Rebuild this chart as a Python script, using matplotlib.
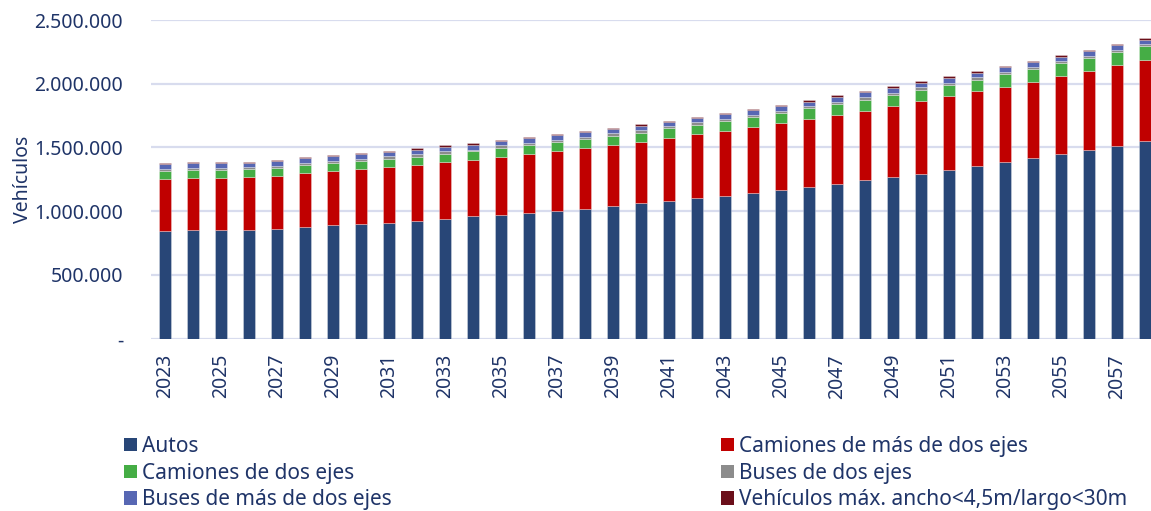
#!/usr/bin/env python3
"""
Proyección de vehículos por categoría 2023-2058 (barras apiladas)
"""

import matplotlib
matplotlib.use('Agg')
import matplotlib.pyplot as plt
from matplotlib.patches import Patch
from matplotlib.ticker import FuncFormatter, MultipleLocator

# años
years = list(range(2023, 2059))

# valores en miles de vehículos
autos = [848, 856, 856, 856, 861, 876, 895, 903, 911, 926, 942, 960,
         973, 989, 1005, 1020, 1041, 1064, 1080, 1106, 1122, 1146, 1169, 1192,
         1216, 1247, 1271, 1294, 1325, 1357, 1383, 1414, 1445, 1479, 1513, 1547]
camiones_mas2 = [404, 404, 403, 412, 414, 423, 420, 427, 432, 436, 443, 441,
                 451, 459, 466, 475, 477, 477, 493, 496, 506, 513, 521, 529,
                 540, 543, 555, 568, 576, 584, 594, 602, 613, 621, 631, 639]
camiones_2 = [63, 62, 64, 62, 63, 63, 62, 66, 69, 65, 66, 68,
              71, 70, 70, 70, 74, 76, 78, 76, 78, 78, 82, 87,
              83, 86, 86, 92, 90, 91, 100, 97, 105, 102, 105, 110]
buses_2 = [18, 19, 19, 16, 19, 15, 19, 16, 18, 18, 18, 15,
           21, 19, 19, 21, 18, 18, 21, 18, 19, 19, 18, 18,
           19, 18, 18, 18, 18, 18, 15, 18, 18, 18, 18, 18]
buses_mas2 = [36, 34, 36, 34, 36, 37, 36, 33, 33, 34, 33, 37,
              31, 39, 36, 34, 33, 37, 31, 36, 39, 39, 36, 34,
              39, 39, 39, 34, 39, 37, 36, 36, 31, 34, 34, 33]
veh_max = [8, 8, 8, 10, 11, 13, 11, 8, 8, 13, 14, 13,
           13, 10, 11, 13, 13, 16, 8, 11, 10, 10, 10, 13,
           12, 13, 11, 13, 13, 10, 14, 14, 13, 13, 13, 11]

series = [
    ('Autos', autos, '#284677'),
    ('Camiones de más de dos ejes', camiones_mas2, '#C00000'),
    ('Camiones de dos ejes', camiones_2, '#45AD45'),
    ('Buses de dos ejes', buses_2, '#8C8C8C'),
    ('Buses de más de dos ejes', buses_mas2, '#5767B3'),
    ('Vehículos máx. ancho<4,5m/largo<30m', veh_max, '#6B0F1A'),
]

TEXT = '#1F3468'
plt.rcParams['font.family'] = ['Noto Sans', 'DejaVu Sans']

fig = plt.figure(figsize=(11.51, 5.11), dpi=100)
ax = fig.add_axes([151 / 1151, 1 - 338.7 / 511, 1 - 151 / 1151, (338.7 - 20) / 511])

x = list(range(len(years)))
bottom = [0] * len(years)
handles = {}
for name, vals, color in series:
    v = [val * 1000 for val in vals]
    ax.bar(x, v, width=0.4, bottom=bottom, color=color,
           edgecolor=(1, 1, 1, 0.35), linewidth=0.6, zorder=3)
    bottom = [b + c for b, c in zip(bottom, v)]
    handles[name] = Patch(facecolor=color, edgecolor='none')

# ejes
ax.set_xlim(-0.5, (1151 - 165) / 28)
ax.set_ylim(0, 2_500_000)
ax.yaxis.set_major_locator(MultipleLocator(500_000))
ax.yaxis.set_major_formatter(FuncFormatter(
    lambda v, p: '-' if v == 0 else f'{v:,.0f}'.replace(',', '.')))
ax.set_xticks(x[::2])
ax.set_xticklabels([str(y) for y in years[::2]], rotation=90)
ax.tick_params(axis='y', length=0, pad=20, labelsize=14, labelcolor=TEXT)
ax.tick_params(axis='x', length=0, pad=11, labelsize=14, labelcolor=TEXT)
for s in ax.spines.values():
    s.set_visible(False)
ax.grid(axis='y', color='#D8DCEE', linewidth=1.6, zorder=0)
ax.set_ylabel('Vehículos', fontsize=14, color=TEXT, labelpad=1)

# leyenda en dos bloques
col1 = ['Autos', 'Camiones de dos ejes', 'Buses de más de dos ejes']
col2 = ['Camiones de más de dos ejes', 'Buses de dos ejes',
        'Vehículos máx. ancho<4,5m/largo<30m']
for names, xpos in [(col1, 124 / 1151), (col2, 721 / 1151)]:
    leg = fig.legend([handles[n] for n in names], names, loc='upper left',
                     bbox_to_anchor=(xpos, 1 - 436 / 511), frameon=False,
                     fontsize=15, handlelength=0.6, handleheight=0.6,
                     handletextpad=0.25, labelspacing=0.27, borderaxespad=0,
                     borderpad=0)
    for t in leg.get_texts():
        t.set_color(TEXT)

plt.savefig('out.png', dpi=100)
plt.close(fig)
